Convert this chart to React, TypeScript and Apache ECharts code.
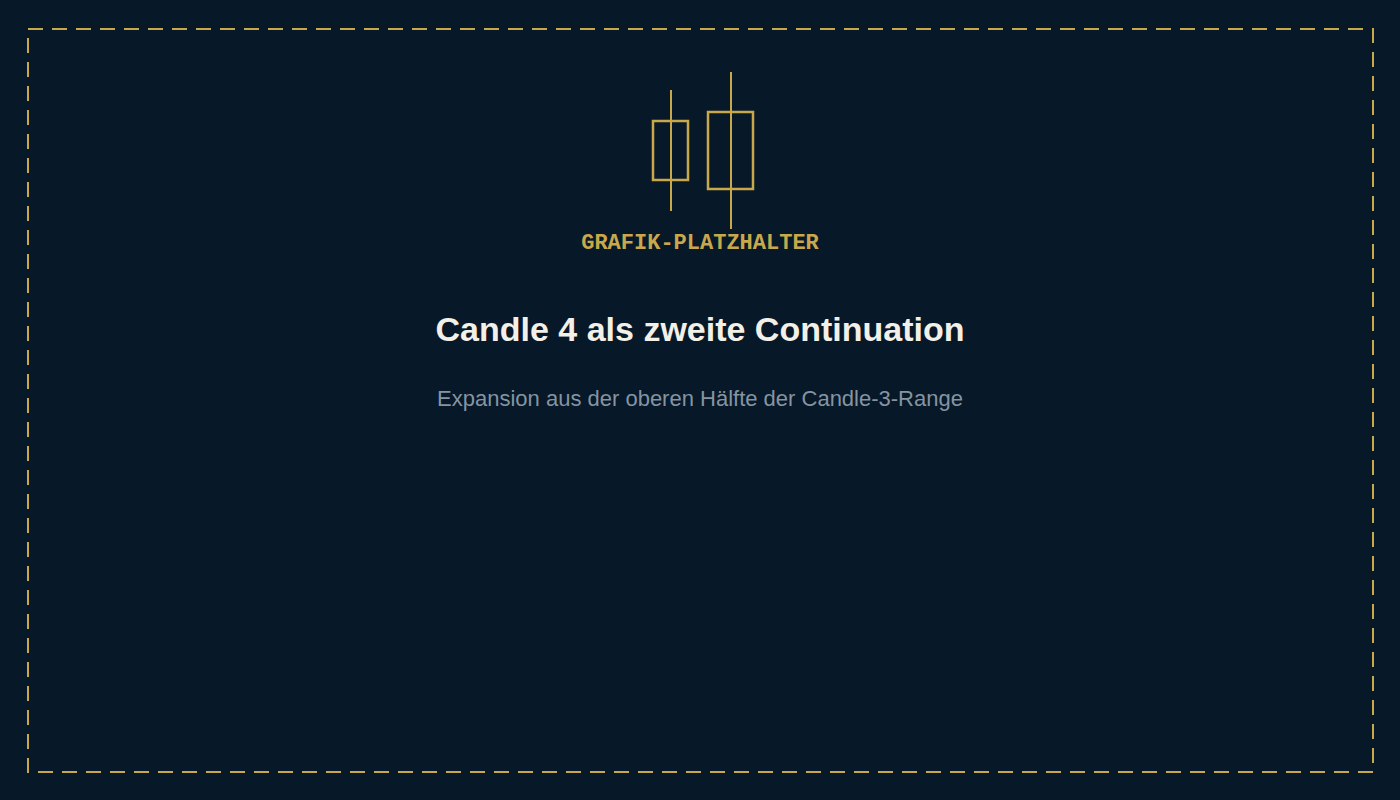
import React, { useEffect, useRef } from "react";
import * as echarts from "echarts";

const placeholderLabel = ["GRAFIK-PLATZHALTER"];
const titleLines = ["Candle 4 als zweite Continuation"];
const subtitleLines = ["Expansion aus der oberen Hälfte der Candle-3-Range"];

const GOLD = "#c9a84c";
const BG = "#071828";

export default function App() {
  const ref = useRef<HTMLDivElement>(null);
  useEffect(() => {
    const chart = echarts.init(ref.current!, undefined, { renderer: "svg", width: 1400, height: 800 });
    const line = (x1: number, y1: number, x2: number, y2: number) => ({
      type: "line",
      shape: { x1, y1, x2, y2 },
      style: { stroke: GOLD, lineWidth: 2, fill: "none" },
    });
    const box = (x: number, y: number, width: number, height: number, lineWidth: number, dash?: number[]) => ({
      type: "rect",
      shape: { x, y, width, height },
      style: { stroke: GOLD, lineWidth, fill: "none", lineDash: dash },
    });
    const text = (t: string, y: number, font: string, fill: string) => ({
      type: "text",
      x: 700,
      y,
      style: { text: t, font, fill, align: "center", verticalAlign: "middle" },
    });
    chart.setOption({
      animation: false,
      backgroundColor: BG,
      graphic: [
        box(28, 29, 1345, 743, 2, [15, 9]),
        line(671, 90, 671, 211),
        box(653, 121, 35, 59, 2.5),
        line(731, 72, 731, 229),
        box(708, 112, 45, 77, 2.5),
        text(placeholderLabel[0], 243, "bold 22px 'Liberation Mono'", GOLD),
        text(titleLines[0], 329, "bold 34px 'Liberation Sans'", "#f3f0e8"),
        text(subtitleLines[0], 398, "22px 'Liberation Sans'", "#8494a3"),
      ],
    });
    return () => chart.dispose();
  }, []);
  return <div ref={ref} style={{ position: "fixed", left: 0, top: 0, width: 1400, height: 800 }} />;
}
